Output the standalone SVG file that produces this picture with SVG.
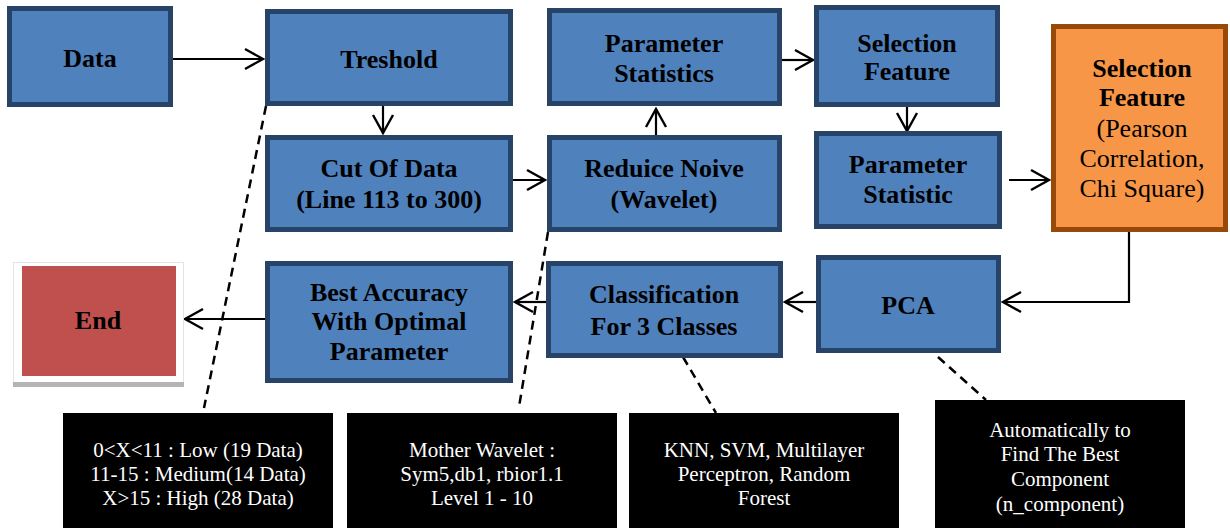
<svg xmlns="http://www.w3.org/2000/svg" width="1230" height="528" viewBox="0 0 1230 528">
<defs>
<marker id="arr" markerUnits="userSpaceOnUse" markerWidth="22" markerHeight="24" viewBox="0 0 22 24" refX="20" refY="12" orient="auto">
<path d="M2,2 L20,12 L2,22" fill="none" stroke="#000" stroke-width="2.4"/>
</marker>
<style>
.b{fill:#4F81BD;stroke:#284368;stroke-width:5}
.o{fill:#F79646;stroke:#984807;stroke-width:5}
.t{font-family:"Liberation Serif",serif;font-size:26px;font-weight:bold;fill:#000;text-anchor:middle}
.r{font-family:"Liberation Serif",serif;font-size:26px;fill:#000;text-anchor:middle}
.w{font-family:"Liberation Serif",serif;font-size:21px;fill:#fff;text-anchor:middle}
.c{fill:none;stroke:#000;stroke-width:2.2;marker-end:url(#arr)}
.d{fill:none;stroke:#000;stroke-width:2.5;stroke-dasharray:9 6}
</style>
</defs>
<rect width="1230" height="528" fill="#fff"/>
<g id="connectors">
<line class="c" x1="173" y1="59" x2="263" y2="59"/>
<line class="c" x1="383" y1="106" x2="383" y2="133"/>
<line class="c" x1="511" y1="180" x2="545" y2="180"/>
<line class="c" x1="656" y1="135" x2="656" y2="109"/>
<line class="c" x1="781" y1="60" x2="813" y2="60"/>
<line class="c" x1="907" y1="107" x2="907" y2="131"/>
<line class="c" x1="1009" y1="180" x2="1049" y2="180"/>
<polyline class="c" points="1129,232 1129,302 1003,302"/>
<line class="c" x1="816" y1="302" x2="785" y2="302"/>
<line class="c" x1="546" y1="302" x2="515" y2="302"/>
<line class="c" x1="265" y1="319" x2="185" y2="319"/>
<line class="d" x1="266" y1="106" x2="204" y2="408"/>
<line class="d" x1="548" y1="232" x2="519" y2="407"/>
<line class="d" x1="683" y1="357" x2="716" y2="413"/>
<line class="d" x1="938" y1="357" x2="986" y2="400"/>
</g>
<g id="data"><rect class="b" x="9.5" y="8.5" width="161" height="96"/><text class="t" x="90" y="67">Data</text></g>
<g id="treshold"><rect class="b" x="267.5" y="11.5" width="243" height="92"/><text class="t" x="389" y="68">Treshold</text></g>
<g id="cut"><rect class="b" x="267.5" y="137.5" width="243" height="92"/><text class="t" x="389" y="177">Cut Of Data</text><text class="t" x="389" y="208">(Line 113 to 300)</text></g>
<g id="paramstats"><rect class="b" x="549.5" y="10.5" width="230" height="93"/><text class="t" x="664" y="52">Parameter</text><text class="t" x="664" y="82">Statistics</text></g>
<g id="reduice"><rect class="b" x="549.5" y="137.5" width="230" height="92"/><text class="t" x="664" y="177">Reduice Noive</text><text class="t" x="664" y="208">(Wavelet)</text></g>
<g id="selection"><rect class="b" x="816.5" y="7.5" width="181" height="97"/><text class="t" x="907" y="52">Selection</text><text class="t" x="907" y="80">Feature</text></g>
<g id="paramstat"><rect class="b" x="816.5" y="133.5" width="183" height="93"/><text class="t" x="908" y="173">Parameter</text><text class="t" x="908" y="203">Statistic</text></g>
<g id="selection2"><rect class="o" x="1053.5" y="26.5" width="172" height="203"/><text class="t" x="1142" y="77">Selection</text><text class="t" x="1142" y="106">Feature</text><text class="r" x="1142" y="137">(Pearson</text><text class="r" x="1142" y="167">Correlation,</text><text class="r" x="1142" y="197">Chi Square)</text></g>
<g id="pca"><rect class="b" x="818.5" y="257.5" width="180" height="93"/><text class="t" x="908" y="314">PCA</text></g>
<g id="classification"><rect class="b" x="548.5" y="263.5" width="232" height="92"/><text class="t" x="664" y="303">Classification</text><text class="t" x="664" y="335">For 3 Classes</text></g>
<g id="best"><rect class="b" x="267.5" y="263.5" width="243" height="117"/><text class="t" x="389" y="301">Best Accuracy</text><text class="t" x="389" y="330">With Optimal</text><text class="t" x="389" y="360">Parameter</text></g>
<g id="end"><rect x="13.5" y="262.5" width="170" height="121" fill="#fff" stroke="#e4e4e4" stroke-width="1"/><rect x="13" y="382" width="171" height="5" fill="#b4b4b4"/><rect x="22" y="266" width="154" height="110" fill="#C0504D"/><text class="t" x="98" y="329">End</text></g>
<g id="note1"><rect x="63" y="413" width="270" height="115" fill="#000"/><text class="w" x="198" y="457">0&lt;X&lt;11 : Low (19 Data)</text><text class="w" x="198" y="481">11-15 : Medium(14 Data)</text><text class="w" x="198" y="505">X&gt;15 : High (28 Data)</text></g>
<g id="note2"><rect x="347" y="413" width="270" height="115" fill="#000"/><text class="w" x="482" y="457">Mother Wavelet :</text><text class="w" x="482" y="481">Sym5,db1, rbior1.1</text><text class="w" x="482" y="505">Level 1 - 10</text></g>
<g id="note3"><rect x="629" y="413" width="270" height="115" fill="#000"/><text class="w" x="764" y="457">KNN, SVM, Multilayer</text><text class="w" x="764" y="481">Perceptron, Random</text><text class="w" x="764" y="505">Forest</text></g>
<g id="note4"><rect x="935" y="400" width="250" height="128" fill="#000"/><text class="w" x="1060" y="437">Automatically to</text><text class="w" x="1060" y="461">Find The Best</text><text class="w" x="1060" y="486">Component</text><text class="w" x="1060" y="511">(n_component)</text></g>
</svg>
